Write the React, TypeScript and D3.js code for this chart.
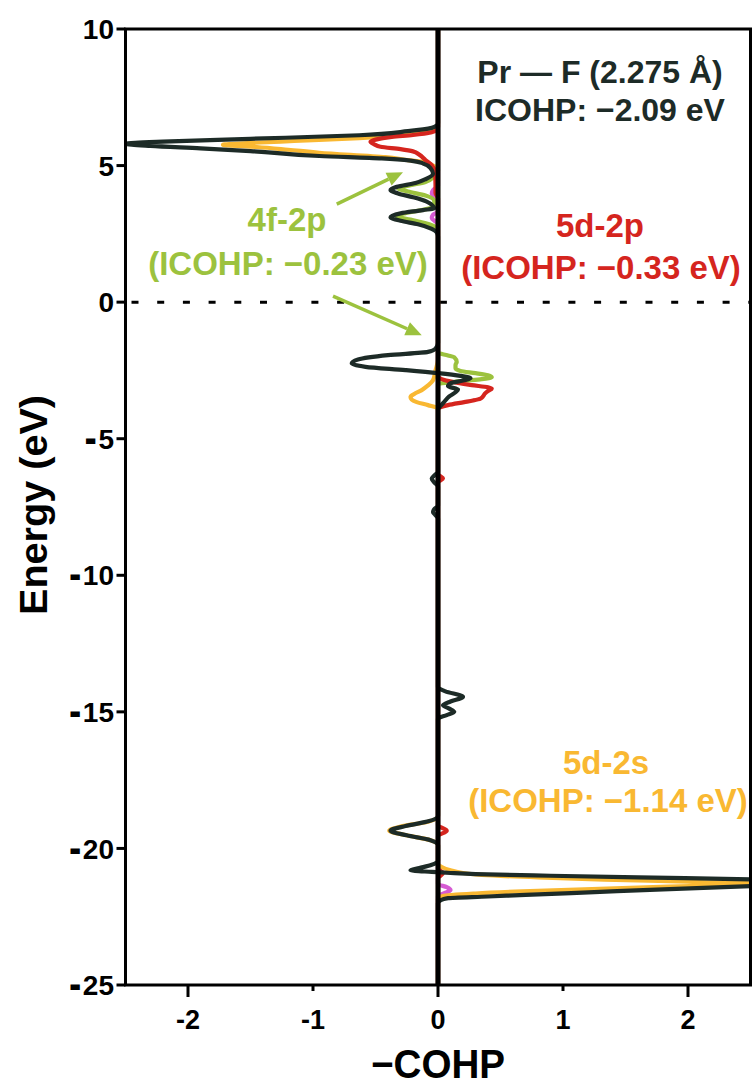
import React from 'react';
import * as d3 from 'd3';

const W = 753;
const H = 1088;
const M = { left: 125.5, right: 750.5, top: 29, bottom: 985 };

const xDomain: [number, number] = [-2.5, 2.5];
const yDomain: [number, number] = [-25, 10];
const xTicks = [-2, -1, 0, 1, 2];
const xMajorTicks = [-2, 0, 2];
const yTicks = [10, 5, 0, -5, -10, -15, -20, -25];

// each point: [energy (eV), -COHP]
const totalPrF: [number, number][] = [
  [10, 0], [6.55, 0], [6.47, -0.01], [6.38, -0.05], [6.26, -0.24], [6.11, -0.63], [5.98, -1.5], [5.88, -2.2], [5.8, -2.5],
  [5.72, -2.3], [5.63, -1.9], [5.53, -1.5], [5.35, -0.95], [5.26, -0.45], [5.18, -0.22], [5.08, -0.12], [4.91, -0.06],
  [4.7, -0.04], [4.5, -0.1], [4.36, -0.18], [4.22, -0.33], [4.1, -0.38], [3.98, -0.32], [3.84, -0.2], [3.68, -0.09],
  [3.52, -0.04], [3.44, -0.03], [3.37, -0.12], [3.25, -0.3], [3.11, -0.38], [2.98, -0.3], [2.85, -0.16], [2.68, -0.05],
  [2.55, -0.01], [2.4, 0],
  [-1.5, 0], [-1.7, -0.02], [-1.82, -0.08], [-1.94, -0.4], [-2.1, -0.64], [-2.24, -0.69], [-2.37, -0.58], [-2.49, -0.26],
  [-2.6, 0.0], [-2.7, 0.18], [-2.79, 0.26], [-2.87, 0.2], [-2.97, 0.1], [-3.08, 0.08], [-3.2, 0.16], [-3.3, 0.14],
  [-3.45, 0.09], [-3.65, 0.05], [-3.8, 0.02], [-3.92, 0],
  [-6.2, 0], [-6.35, -0.03], [-6.46, -0.05], [-6.6, -0.03], [-6.75, 0],
  [-7.45, 0], [-7.58, -0.03], [-7.68, -0.04], [-7.8, -0.02], [-7.92, 0],
  [-14.1, 0], [-14.25, 0.06], [-14.45, 0.2], [-14.62, 0.1], [-14.76, 0.04], [-14.88, 0.09], [-15.0, 0.13], [-15.12, 0.07], [-15.25, 0],
  [-18.8, 0], [-19.0, -0.07], [-19.18, -0.26], [-19.35, -0.38], [-19.52, -0.25], [-19.7, -0.06], [-19.88, 0],
  [-20.45, 0], [-20.6, -0.05], [-20.72, -0.15], [-20.8, -0.22], [-20.86, -0.05], [-20.9, 0.1], [-20.94, 0.3], [-21.0, 0.9],
  [-21.06, 1.6], [-21.13, 2.5], [-21.25, 3.3], [-21.38, 2.5], [-21.5, 1.8], [-21.6, 1.25], [-21.7, 0.7], [-21.76, 0.4],
  [-21.82, 0.08], [-21.9, 0.02], [-22.0, 0], [-25, 0],
];

const d5s2s: [number, number][] = [
  [10, 0], [6.42, 0], [6.3, -0.05], [6.2, -0.13], [6.1, -0.3], [6.0, -0.63], [5.9, -1.15], [5.83, -1.5], [5.76, -1.72],
  [5.68, -1.45], [5.58, -1.2], [5.47, -0.95], [5.31, -0.42], [5.2, -0.24], [5.12, -0.1], [5.0, -0.04], [4.85, 0],
  [-2.1, 0], [-2.5, -0.02], [-2.86, -0.04], [-3.05, -0.08], [-3.22, -0.13], [-3.36, -0.19], [-3.47, -0.22], [-3.57, -0.21],
  [-3.66, -0.17], [-3.77, -0.08], [-3.9, 0],
  [-18.85, 0], [-19.02, -0.08], [-19.2, -0.3], [-19.35, -0.39], [-19.5, -0.27], [-19.7, -0.06], [-19.86, 0],
  [-20.55, 0], [-20.68, 0.03], [-20.8, 0.1], [-20.9, 0.2], [-20.97, 0.35], [-21.06, 0.8], [-21.14, 1.33], [-21.22, 2.0],
  [-21.3, 2.58], [-21.37, 2.1], [-21.43, 1.6], [-21.55, 0.8], [-21.65, 0.3], [-21.74, 0.04], [-21.85, 0], [-25, 0],
];

const d5s2p: [number, number][] = [
  [10, 0], [6.4, 0], [6.3, -0.01], [6.22, -0.05], [6.12, -0.2], [6.05, -0.37], [5.95, -0.5], [5.87, -0.54], [5.78, -0.51],
  [5.69, -0.46], [5.6, -0.3], [5.52, -0.2], [5.4, -0.15], [5.2, -0.1], [5.02, -0.05], [4.76, -0.025], [4.3, -0.02],
  [4.0, -0.02], [3.8, 0],
  [-2.7, 0], [-2.85, 0.05], [-2.95, 0.15], [-3.04, 0.27], [-3.12, 0.4], [-3.17, 0.43], [-3.25, 0.4], [-3.35, 0.375],
  [-3.45, 0.36], [-3.53, 0.34], [-3.6, 0.28], [-3.66, 0.21], [-3.77, 0.08], [-3.9, 0],
  [-6.3, 0], [-6.45, 0.04], [-6.6, 0],
  [-19.15, 0], [-19.35, 0.07], [-19.55, 0],
  [-20.75, 0], [-20.9, 0.04], [-21.1, 0], [-25, 0],
];

const f4p2: [number, number][] = [
  [10, 0], [4.8, 0], [4.6, -0.03], [4.4, -0.1], [4.28, -0.22], [4.17, -0.32], [4.05, -0.24], [3.9, -0.1], [3.7, -0.03],
  [3.5, -0.03], [3.38, -0.12], [3.26, -0.26], [3.15, -0.33], [3.02, -0.22], [2.85, -0.07], [2.65, 0],
  [-1.85, 0], [-1.95, 0.08], [-2.02, 0.13], [-2.19, 0.15], [-2.3, 0.14], [-2.42, 0.14], [-2.52, 0.18], [-2.6, 0.3],
  [-2.68, 0.4], [-2.75, 0.43], [-2.82, 0.35], [-2.88, 0.2], [-2.94, 0.08], [-3.0, 0], [-25, 0],
];

const minorPair: [number, number][] = [
  [10, 0], [4.25, 0], [4.1, -0.04], [3.98, -0.05], [3.86, -0.03], [3.72, 0], [3.32, 0], [3.2, -0.04], [3.08, -0.05],
  [2.95, -0.02], [2.85, 0], [-21.3, 0], [-21.42, 0.07], [-21.52, 0.1], [-21.62, 0.06], [-21.75, 0], [-25, 0],
];

const seriesNames = ['minor', '5d-2s', '4f-2p', '5d-2p', 'Pr-F'];
const seriesColors = ['#d65bd3', '#f9b832', '#9cc23e', '#d5251e', '#1d2b27'];
const seriesData = [minorPair, d5s2s, f4p2, d5s2p, totalPrF];

const FONT = '"Liberation Sans", Arial, Helvetica, sans-serif';

export default function App() {
  const x = d3.scaleLinear().domain(xDomain).range([M.left, M.right]);
  const y = d3.scaleLinear().domain(yDomain).range([M.bottom, M.top]);
  const line = d3
    .line<[number, number]>()
    .x((d) => x(d[1]))
    .y((d) => y(d[0]))
    .curve(d3.curveMonotoneY);

  const arrows = [
    { from: [-0.81, 3.59], to: [-0.28, 4.76] },
    { from: [-0.84, 0.22], to: [-0.13, -1.21] },
  ];
  const green = '#9cc23e';

  return (
    <svg width={W} height={H} style={{ position: 'absolute', left: 0, top: 0, background: '#fff' }} fontFamily={FONT}>
      <defs>
        <clipPath id="plotClip">
          <rect x={M.left} y={M.top} width={M.right - M.left} height={M.bottom - M.top} />
        </clipPath>
      </defs>
      <rect x={0} y={0} width={W} height={H} fill="#fff" />
      {/* dotted Fermi level */}
      <line x1={M.left} x2={M.right} y1={y(0)} y2={y(0)} stroke="#000" strokeWidth={3} strokeDasharray="7 18.7" strokeDashoffset={-6} />
      <g clipPath="url(#plotClip)">
        {seriesData.map((d, i) => (
          <path key={seriesNames[i]} d={line(d) || ''} fill="none" stroke={seriesColors[i]} strokeWidth={4.2} strokeLinejoin="round" />
        ))}
      </g>
      {/* zero line */}
      <line x1={x(0)} x2={x(0)} y1={M.top} y2={M.bottom} stroke="#000" strokeWidth={5} />
      {/* frame */}
      <rect x={M.left} y={M.top} width={M.right - M.left} height={M.bottom - M.top} fill="none" stroke="#000" strokeWidth={3} />
      {/* y ticks */}
      {yTicks.map((t) => (
        <g key={'y' + t}>
          <line x1={M.left - 9} x2={M.left} y1={y(t)} y2={y(t)} stroke="#000" strokeWidth={3} />
          <text x={114} y={y(t)} dy="0.36em" textAnchor="end" fontSize={28} fontWeight="bold" fill="#000">
            {t < 0 ? (
              <>
                <tspan stroke="#000" strokeWidth={2.2}>-</tspan>
                <tspan dx={3}>{Math.abs(t)}</tspan>
              </>
            ) : (
              String(t)
            )}
          </text>
        </g>
      ))}
      {/* x ticks */}
      {xTicks.map((t) => (
        <g key={'x' + t}>
          <line x1={x(t)} x2={x(t)} y1={M.bottom} y2={M.bottom + (xMajorTicks.includes(t) ? 12 : 6)} stroke="#000" strokeWidth={3} />
          <text x={x(t)} y={1029} textAnchor="middle" fontSize={27} fontWeight="bold" fill="#000">{t}</text>
        </g>
      ))}
      <text x={x(0)} y={1078} textAnchor="middle" fontSize={40} fontWeight="bold" fill="#000" textLength={134} lengthAdjust="spacingAndGlyphs">−COHP</text>
      <text transform={`translate(47, 505) rotate(-90)`} textAnchor="middle" fontSize={38} fontWeight="bold" fill="#000" textLength={220} lengthAdjust="spacingAndGlyphs">Energy (eV)</text>

      {/* annotations */}
      <text x={600} y={83} textAnchor="middle" fontSize={32} fontWeight="bold" fill="#1d2b27">Pr — F (2.275 Å)</text>
      <text x={600} y={121} textAnchor="middle" fontSize={32} fontWeight="bold" fill="#1d2b27">ICOHP: −2.09 eV</text>

      <text x={287} y={231} textAnchor="middle" fontSize={33} fontWeight="bold" fill={green}>4f-2p</text>
      <text x={288} y={275} textAnchor="middle" fontSize={33} fontWeight="bold" fill={green}>(ICOHP: −0.23 eV)</text>

      <text x={600} y={237} textAnchor="middle" fontSize={33} fontWeight="bold" fill="#d5251e">5d-2p</text>
      <text x={601} y={279} textAnchor="middle" fontSize={33} fontWeight="bold" fill="#d5251e">(ICOHP: −0.33 eV)</text>

      <text x={606} y={774} textAnchor="middle" fontSize={33} fontWeight="bold" fill="#f9b832">5d-2s</text>
      <text x={608} y={812} textAnchor="middle" fontSize={33} fontWeight="bold" fill="#f9b832">(ICOHP: −1.14 eV)</text>

      {arrows.map((a, i) => {
        const x1 = x(a.from[0]);
        const y1 = y(a.from[1]);
        const x2 = x(a.to[0]);
        const y2 = y(a.to[1]);
        const ang = Math.atan2(y2 - y1, x2 - x1);
        const L = 16;
        const hw = 7;
        const bx = x2 - L * Math.cos(ang);
        const by = y2 - L * Math.sin(ang);
        const p1 = [bx + hw * Math.sin(ang), by - hw * Math.cos(ang)];
        const p2 = [bx - hw * Math.sin(ang), by + hw * Math.cos(ang)];
        return (
          <g key={'a' + i}>
            <line x1={x1} y1={y1} x2={bx} y2={by} stroke={green} strokeWidth={3.5} />
            <polygon points={`${x2},${y2} ${p1[0]},${p1[1]} ${p2[0]},${p2[1]}`} fill={green} />
          </g>
        );
      })}
    </svg>
  );
}
